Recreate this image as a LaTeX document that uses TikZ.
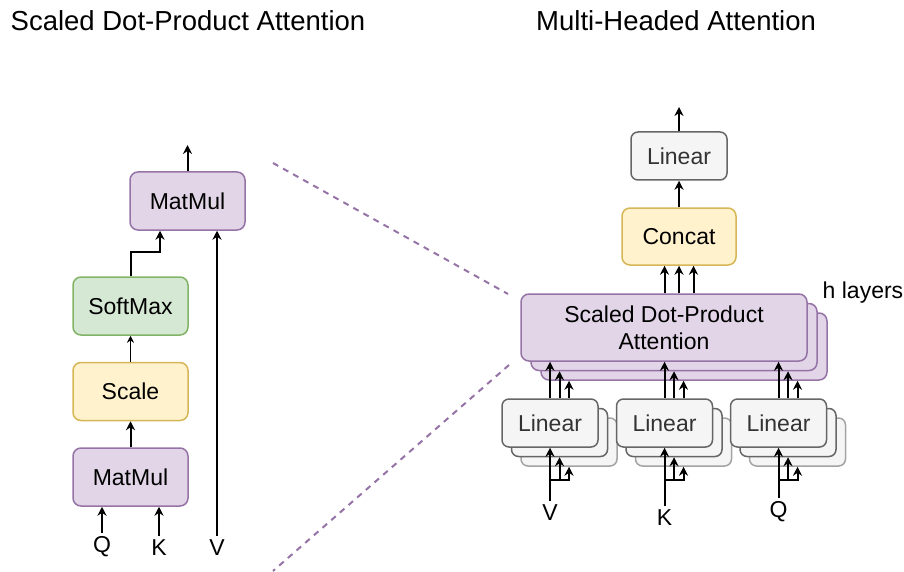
\documentclass[tikz,border=0pt]{standalone}
\usepackage{fontspec}
\setmainfont{Liberation Sans}
\usetikzlibrary{arrows.meta}
\definecolor{purfill}{HTML}{E1D5E7}
\definecolor{purline}{HTML}{9673A6}
\definecolor{grnfill}{HTML}{D5E8D4}
\definecolor{grnline}{HTML}{82B366}
\definecolor{yelfill}{HTML}{FFF2CC}
\definecolor{yelline}{HTML}{D6B656}
\definecolor{gryfill}{HTML}{F5F5F5}
\definecolor{gryline}{HTML}{666666}
\definecolor{grytext}{HTML}{333333}
\newcommand{\boxfont}{\fontsize{23}{27}\selectfont}
\newcommand{\headfont}{\fontsize{27.5}{32}\selectfont}
\tikzset{
  blk/.style={draw, rounded corners=8pt, line width=1.5pt, inner sep=0pt,
    minimum width=115pt, minimum height=58pt, font=\boxfont, align=center},
  purblk/.style={blk, fill=purfill, draw=purline},
  grnblk/.style={blk, fill=grnfill, draw=grnline},
  yelblk/.style={blk, fill=yelfill, draw=yelline},
  linblk/.style={blk, fill=gryfill, draw=gryline, text=grytext,
    minimum width=96pt, minimum height=48pt, rounded corners=7pt},
  lbl/.style={font=\boxfont, inner sep=4pt},
  arr/.style={line width=2pt, -{Stealth[length=9pt,width=9pt]}},
  thinarr/.style={line width=1pt, -{Stealth[length=7pt,width=7pt]}},
  zoomline/.style={purline, line width=2pt, dash pattern=on 6pt off 5.5pt},
}
\begin{document}
\begin{tikzpicture}[x=1pt,y=-1pt]
  \useasboundingbox (0,0) rectangle (904,572);
  \node[font=\headfont, anchor=base west, inner sep=0pt] (headL) at (10.5,31) {Scaled Dot-Product Attention};
  \node[font=\headfont, anchor=base west, inner sep=0pt] (headR) at (536,31) {Multi-Headed Attention};

  % scaled dot-product attention, bottom to top
  \node[purblk] (matmulB) at (130.5,477) {MatMul};
  \node[yelblk] (scale) at (130.5,391.5) {Scale};
  \node[grnblk] (softmax) at (130.5,306) {SoftMax};
  \node[purblk] (matmulT) at (187.5,201) {MatMul};
  \node[lbl] (q) at (102,547) {Q};
  \node[lbl] (k) at (159,548) {K};
  \node[lbl] (v) at (217,548) {V};
  \coordinate (attnout) at (187.5,145);

  \draw[arr] (q.north) -- (q.north |- matmulB.south);
  \draw[arr] (k.north) -- (k.north |- matmulB.south);
  \draw[arr] (matmulB) -- (scale);
  \draw[thinarr] (scale) -- (softmax);
  \draw[arr] (softmax.north) -- ++(0,-24) -| ([xshift=-27.5pt]matmulT.south);
  \draw[arr] (v.north) -- (v.north |- matmulT.south);
  \draw[arr] (matmulT) -- (attnout);

  % zoom lines
  \coordinate (zA) at (273,163);
  \coordinate (zB) at (508,294);
  \coordinate (zC) at (509,365);
  \coordinate (zD) at (273,571);
  \draw[zoomline] (zA) -- (zB);
  \draw[zoomline] (zC) -- (zD);

  % h stacked attention heads
  \foreach \i in {2,1}
    \node[purblk, minimum width=286pt, minimum height=67pt] (sdpa\i) at (664+10*\i,327.5+9.5*\i) {};
  \node[purblk, minimum width=286pt, minimum height=67pt] (sdpa) at (664,327.5) {Scaled Dot-Product\\Attention};
  \node[lbl, anchor=base west, inner sep=0pt] (hlayers) at (822.5,298.5) {h layers};

  \node[yelblk, minimum width=114pt, minimum height=57pt] (concat) at (679,236.5) {Concat};
  \node[linblk] (linout) at (679,156) {Linear};
  \coordinate (mhaout) at (679,107);

  \foreach \d in {-14.5,0,14.5}
    \draw[arr] ([xshift=\d pt]concat.south |- sdpa.north) -- ([xshift=\d pt]concat.south);
  \draw[arr] (concat) -- (linout);
  \draw[arr] (linout) -- (mhaout);

  \foreach \n/\x/\ly/\t in {v/550/513/V, k/664.5/518/K, q/778.5/512/Q}{
    \node[linblk, draw=gryline!60] (lin\n2) at (\x+19,442) {};
    \node[linblk] (lin\n1) at (\x+9.5,432.5) {};
    \node[linblk] (lin\n) at (\x,423) {Linear};
    \node[lbl] (in\n) at (\x,\ly) {\t};
    \coordinate (fork\n) at (\x,480);
    % input fans out to the h projections
    \draw[arr] (in\n.north) -- (lin\n.south);
    \draw[arr] (fork\n -| lin\n1.south) -- (lin\n1.south);
    \draw[arr] (fork\n) -| (lin\n2.south);
    % each projection feeds its own head
    \draw[arr] (lin\n.north) -- (lin\n.north |- sdpa.south);
    \draw[arr] (lin\n1.north |- lin\n.north) -- (lin\n1.north |- sdpa1.south);
    \draw[arr] (lin\n2.north |- lin\n.north) -- (lin\n2.north |- sdpa2.south);
  }
\end{tikzpicture}
\end{document}
